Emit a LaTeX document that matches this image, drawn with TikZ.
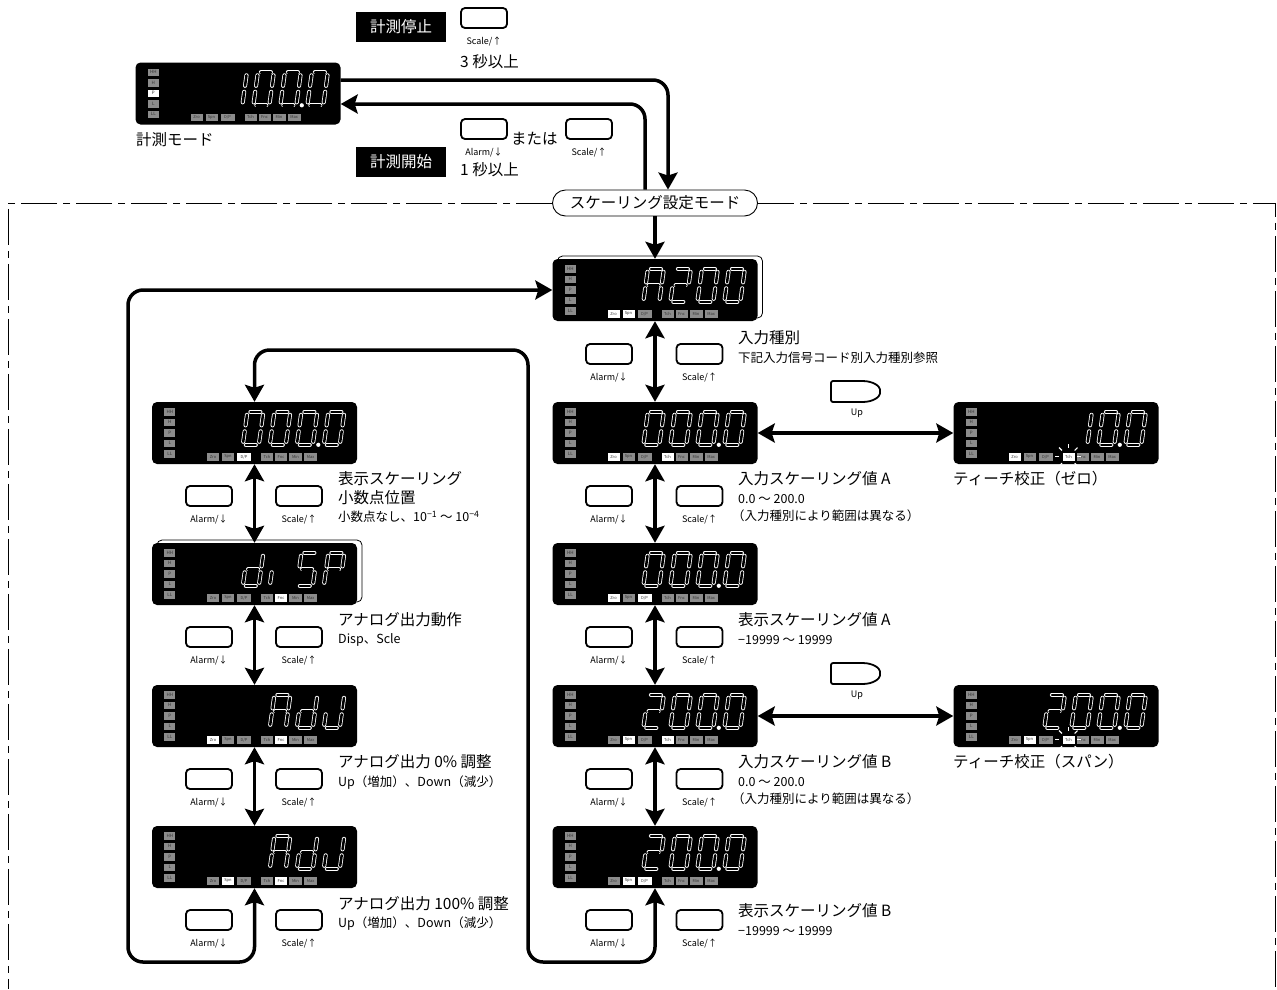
\documentclass[tikz,border=0pt]{standalone}
\usepackage{fontspec}
\setmainfont{Noto Sans CJK JP}
\usepackage{tikz}
\usetikzlibrary{arrows.meta,positioning,shadows}

\makeatletter
\newcommand{\litcheck}[2]{%
  \edef\lit@tmp{\noexpand\in@{,#1,}{,#2,}}\lit@tmp
  \ifin@\def\boxfill{white}\else\def\boxfill{black!45}\fi}
\makeatother

\tikzset{
  panel/.style={fill=black, rounded corners=5pt, minimum width=205pt, minimum height=62pt, inner sep=0pt},
  blink/.style={copy shadow={shadow xshift=5pt, shadow yshift=3pt, fill=white, draw=black, line width=0.8pt}},
  key/.style={draw, line width=1.8pt, rounded corners=4pt, minimum width=46pt, minimum height=20pt, inner sep=0pt},
  keytxt/.style={font=\fontsize{9}{9}\selectfont, inner sep=0pt},
  ledbox/.style={font=\fontsize{4.5}{4.5}\selectfont, minimum width=11pt, minimum height=7.5pt, inner sep=0pt, text=black!80},
  indbox/.style={font=\fontsize{4}{4}\selectfont, minimum height=7.5pt, inner sep=0pt, text=black!80},
  seg/.style={draw=white, line width=0.8pt, double=black, double distance=2.5pt, line cap=round},
  flow/.style={line width=3.5pt, rounded corners=15pt},
  ttl/.style={font=\fontsize{15.5}{17}\selectfont, anchor=west, inner sep=0pt},
  sub/.style={font=\fontsize{12.5}{14}\selectfont, anchor=west, inner sep=0pt},
  tag/.style={fill=black, text=white, minimum width=90pt, minimum height=30pt, inner sep=0pt, font=\fontsize{15.5}{17}\selectfont},
  modepill/.style={draw, fill=white, line width=0.9pt, rounded corners=13pt, minimum width=205pt, minimum height=26pt, inner sep=0pt, font=\fontsize{15.5}{17}\selectfont},
  frame/.style={line width=0.9pt, dash pattern=on 36pt off 6pt on 7pt off 6pt},
  upkey/.style={line width=1.8pt, rounded corners=2pt},
}

% seven segments, origin = bottom left of a digit
\newcommand{\segA}{\draw[seg] (3,-33) -- (13,-33);}
\newcommand{\segB}{\draw[seg] (16,-30) -- (16,-19.5);}
\newcommand{\segC}{\draw[seg] (16,-13.5) -- (16,-3);}
\newcommand{\segD}{\draw[seg] (3,0) -- (13,0);}
\newcommand{\segE}{\draw[seg] (0,-13.5) -- (0,-3);}
\newcommand{\segF}{\draw[seg] (0,-30) -- (0,-19.5);}
\newcommand{\segG}{\draw[seg] (3,-16.5) -- (13,-16.5);}
\newcommand{\glyphZero}{\segA\segB\segC\segD\segE\segF}
\newcommand{\glyphOne}{\segB\segC}
\newcommand{\glyphTwo}{\segA\segB\segG\segE\segD}
\newcommand{\glyphA}{\segA\segB\segC\segE\segF\segG}
\newcommand{\glyphd}{\segB\segC\segD\segE\segG}
\newcommand{\glyphi}{\segE}
\newcommand{\glyphS}{\segA\segF\segG\segC\segD}
\newcommand{\glyphP}{\segA\segB\segE\segF\segG}
\newcommand{\glyphJ}{\segB\segC\segD\segE}

% face of a meter: #1 node, #2 digits, #3 dot, #4 lit lamps below, #5 lit lamps left
\newcommand{\panelface}[5]{%
  \begin{scope}[shift={(#1.north west)}]
    \foreach \lbl [count=\i] in {HH,H,P,L,LL}{
      \litcheck{\i}{#5}
      \node[ledbox, fill=\boxfill] at (18,{10.5*\i-0.5}) {\lbl};
    }
    \foreach \lbl/\lx/\bw [count=\i] in {Zro/55/12, Spn/70/12, {D/P}/85/14, Tch/109/12, Fnc/123/12, Min/137/13, Max/152/13}{
      \litcheck{\i}{#4}
      \node[indbox, fill=\boxfill, minimum width=\bw pt, anchor=west] at (\lx,55) {\lbl};
    }
    \foreach \cell/\g in {#2}{
      \begin{scope}[shift={({64+27*\cell},43)}, xslant=0.14]
        \g
      \end{scope}
    }
    \ifnum#3=1\relax \fill[white] (166.5,43) circle (2.1pt); \fi
  \end{scope}}

\newcommand{\sparkle}[1]{%
  \begin{scope}[shift={(#1.north west)}]
    \foreach \ang in {0,45,...,315}
      \draw[white, line width=1.1pt] (115,55) ++(\ang:9) -- ++(\ang:4);
  \end{scope}}

\begin{document}
\begin{tikzpicture}[x=1pt, y=-1pt, >={Stealth[length=17pt,width=19pt,inset=3pt]}]
\path[use as bounding box, fill=white] (0,0) rectangle (1277,989);

% stop / start of measuring
\node[tag] (stopTag) at (401,27) {計測停止};
\node[key] (kStop) at (484,18) {};
\node[keytxt, below=8pt of kStop] (kStopL) {Scale/↑};
\node[ttl] (stopT) at (460,62) {3 秒以上};

\node[panel] (meas) at (238,93.5) {};
\panelface{meas}{1/\glyphOne,2/\glyphZero,3/\glyphZero,4/\glyphZero}{1}{}{3}
\node[ttl] (measT) at (136,140) {計測モード};

\node[tag] (startTag) at (401,162) {計測開始};
\node[key] (kStartA) at (484,129) {};
\node[keytxt, below=8pt of kStartA] (kStartAL) {Alarm/↓};
\node[ttl] (orT) at (511,139) {または};
\node[key] (kStartS) at (589,129) {};
\node[keytxt, below=8pt of kStartS] (kStartSL) {Scale/↑};
\node[ttl] (startT) at (460,170) {1 秒以上};

% scaling mode frame
\node[modepill] (mode) at (655,203) {スケーリング設定モード};
\draw[frame] (mode.west) -- (8,203) -- (8,989);
\draw[frame] (mode.east) -- (1275,203) -- (1275,989);

% right column
\node[panel, blink] (inType) at (655,290) {};
\panelface{inType}{1/\glyphA,2/\glyphTwo,3/\glyphZero,4/\glyphZero}{0}{1,2}{0}
\node[panel] (inZero) at (655,433) {};
\panelface{inZero}{1/\glyphZero,2/\glyphZero,3/\glyphZero,4/\glyphZero}{1}{1,4}{0}
\node[panel] (dspZero) at (655,574) {};
\panelface{dspZero}{1/\glyphZero,2/\glyphZero,3/\glyphZero,4/\glyphZero}{1}{1,3}{0}
\node[panel] (inSpan) at (655,716) {};
\panelface{inSpan}{1/\glyphTwo,2/\glyphZero,3/\glyphZero,4/\glyphZero}{1}{2,4}{0}
\node[panel] (dspSpan) at (655,857) {};
\panelface{dspSpan}{1/\glyphTwo,2/\glyphZero,3/\glyphZero,4/\glyphZero}{1}{2,3}{0}

% left column
\node[panel] (dpPos) at (254.5,433) {};
\panelface{dpPos}{1/\glyphZero,2/\glyphZero,3/\glyphZero,4/\glyphZero}{1}{3}{0}
\node[panel, blink] (aoMode) at (254.5,574) {};
\panelface{aoMode}{1/\glyphd,2/\glyphi,3/\glyphS,4/\glyphP}{0}{5}{0}
\node[panel] (aoZero) at (254.5,716) {};
\panelface{aoZero}{2/\glyphA,3/\glyphd,4/\glyphJ}{0}{1,5}{0}
\node[panel] (aoFull) at (254.5,857) {};
\panelface{aoFull}{2/\glyphA,3/\glyphd,4/\glyphJ}{0}{2,5}{0}

% teach
\node[panel] (tchZero) at (1056,433) {};
\panelface{tchZero}{2/\glyphOne,3/\glyphZero,4/\glyphZero}{1}{1,4}{0}
\sparkle{tchZero}
\node[panel] (tchSpan) at (1056,716) {};
\panelface{tchSpan}{1/\glyphTwo,2/\glyphZero,3/\glyphZero,4/\glyphZero}{1}{2,4}{0}
\sparkle{tchSpan}
\node[ttl] (tchZeroT) at (953,479) {ティーチ校正（ゼロ）};
\node[ttl] (tchSpanT) at (953,762) {ティーチ校正（スパン）};

% keys
\foreach \ky [count=\r] in {354,496,637,779,920}{
  \node[key] (ra\r) at (609,\ky) {};
  \node[keytxt, below=8pt of ra\r] (ral\r) {Alarm/↓};
  \node[key] (rs\r) at (699.5,\ky) {};
  \node[keytxt, below=8pt of rs\r] (rsl\r) {Scale/↑};
}
\foreach \ky [count=\r] in {496,637,779,920}{
  \node[key] (la\r) at (209,\ky) {};
  \node[keytxt, below=8pt of la\r] (lal\r) {Alarm/↓};
  \node[key] (ls\r) at (299,\ky) {};
  \node[keytxt, below=8pt of ls\r] (lsl\r) {Scale/↑};
}
\foreach \uy [count=\r] in {391.5,673.5}{
  \begin{scope}[shift={(855.5,\uy)}]
    \draw[upkey] (-24.5,-10.5) -- (5,-10.5) .. controls (18,-10.5) and (24.5,-5) .. (24.5,0)
      .. controls (24.5,5) and (18,10.5) .. (5,10.5) -- (-24.5,10.5) -- cycle;
    \node[keytxt] (upl\r) at (1.5,21.5) {Up};
  \end{scope}
}

% texts right
\node[ttl] (r1a) at (738,338) {入力種別};
\node[sub] (r1b) at (738,358) {下記入力信号コード別入力種別参照};
\node[ttl] (r2a) at (738,479) {入力スケーリング値 A};
\node[sub] (r2b) at (738,499) {0.0 ～ 200.0};
\node[sub] (r2c) at (732,516) {（入力種別により範囲は異なる）};
\node[ttl] (r3a) at (738,620) {表示スケーリング値 A};
\node[sub] (r3b) at (738,640) {−19999 ～ 19999};
\node[ttl] (r4a) at (738,762) {入力スケーリング値 B};
\node[sub] (r4b) at (738,782) {0.0 ～ 200.0};
\node[sub] (r4c) at (732,799) {（入力種別により範囲は異なる）};
\node[ttl] (r5a) at (738,911) {表示スケーリング値 B};
\node[sub] (r5b) at (738,931) {−19999 ～ 19999};

% texts left
\node[ttl] (l1a) at (338,479) {表示スケーリング};
\node[ttl] (l1b) at (338,498) {小数点位置};
\node[sub] (l1c) at (338,517) {小数点なし、10\textsuperscript{−1} ～ 10\textsuperscript{−4}};
\node[ttl] (l2a) at (338,620) {アナログ出力動作};
\node[sub] (l2b) at (338,640) {Disp、Scle};
\node[ttl] (l3a) at (338,762) {アナログ出力 0\% 調整};
\node[sub] (l3b) at (338,783) {Up（増加）、Down（減少）};
\node[ttl] (l4a) at (338,904) {アナログ出力 100\% 調整};
\node[sub] (l4b) at (338,924) {Up（増加）、Down（減少）};

% connectors
\draw[flow,->] ([yshift=13.5pt]meas.east) -| ([xshift=13pt]mode.north);
\draw[flow,->] ([xshift=-10pt]mode.north) |- ([yshift=-10.5pt]meas.east);
\draw[flow,->] (mode.south) -- (inType.north);
\foreach \a/\b in {inType/inZero, inZero/dspZero, dspZero/inSpan, inSpan/dspSpan, dpPos/aoMode, aoMode/aoZero, aoZero/aoFull}
  \draw[flow,<->] (\a.south) -- (\b.north);
\draw[flow,<->] (inZero.east) -- (tchZero.west);
\draw[flow,<->] (inSpan.east) -- (tchSpan.west);
\draw[flow,<->] (inType.west) -| (128,962) -| (aoFull.south);
\draw[flow,<->] (dpPos.north) |- (528,350) -- (528,962) -| (dspSpan.south);

\end{tikzpicture}
\end{document}
